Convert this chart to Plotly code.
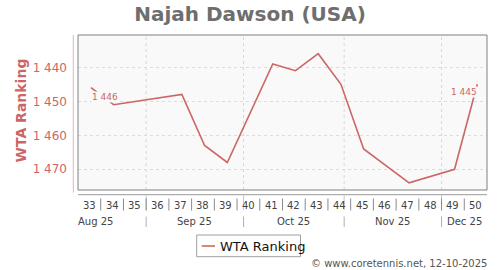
import plotly.graph_objects as go
import pandas as pd

# ---------------- data ----------------
player = "Najah Dawson (USA)"
series_name = "WTA Ranking"
dates = ["2025-08-15", "2025-08-22", "2025-09-12", "2025-09-19", "2025-09-26",
         "2025-10-10", "2025-10-17", "2025-10-24", "2025-10-31", "2025-11-07",
         "2025-11-21", "2025-12-05", "2025-12-12"]
ranking = [1446, 1451, 1448, 1463, 1468, 1439, 1441, 1436, 1445, 1464, 1474, 1470, 1445]
y_ticks = [1440, 1450, 1460, 1470]
y_ticktext = ["1 440", "1 450", "1 460", "1 470"]
week_numbers = list(range(33, 51))
first_week_monday = "2025-08-11"
month_starts = ["2025-09-01", "2025-10-01", "2025-11-01", "2025-12-01"]
month_labels = ["Aug 25", "Sep 25", "Oct 25", "Nov 25", "Dec 25"]
month_label_dates = ["2025-08-16 12:00", "2025-09-16", "2025-10-16 12:00", "2025-11-16", "2025-12-08"]
footer = "© www.coretennis.net, 12-10-2025"

# ---------------- layout constants ----------------
W, H = 500, 270
L, R, T, B = 78, 487, 35, 190
RED = "#cc6666"
FONT = "DejaVu Sans"

def px_x(px):
    return (px - L) / (R - L)

def px_y(py):
    return (B - py) / (B - T)

mondays = pd.date_range(first_week_monday, periods=len(week_numbers) + 1, freq="7D")
x_start, x_end = mondays[0], mondays[-1]
week_centers = [m + pd.Timedelta(hours=84) for m in mondays[:-1]]

fig = go.Figure()
fig.add_trace(go.Scatter(
    x=pd.to_datetime(dates), y=ranking, mode="lines", name=series_name,
    line=dict(color=RED, width=1.6), showlegend=False, hoverinfo="skip"))

shapes = []
annotations = []

# plot border
shapes.append(dict(type="rect", xref="paper", yref="paper", x0=0, x1=1, y0=0, y1=1,
                   line=dict(color="#808080", width=1), layer="above"))
# offset y-axis line
shapes.append(dict(type="line", xref="paper", yref="paper", x0=px_x(73.3), x1=px_x(73.3),
                   y0=1, y1=px_y(192.7), line=dict(color="#e4b4b4", width=1)))
# offset x-axis line
shapes.append(dict(type="line", xref="paper", yref="paper", x0=0, x1=1,
                   y0=px_y(194.7), y1=px_y(194.7), line=dict(color="#9a9a9a", width=1)))
# month gridlines (dashed in plot) and their extensions
for ms in month_starts:
    shapes.append(dict(type="line", xref="x", yref="paper", x0=ms, x1=ms, y0=0, y1=1,
                       line=dict(color="#d8d8d8", width=1, dash="3px,3px"), layer="below"))
    shapes.append(dict(type="line", xref="x", yref="paper", x0=ms, x1=ms,
                       y0=px_y(194.7), y1=px_y(210), line=dict(color="#c8c8c8", width=1)))
    shapes.append(dict(type="line", xref="x", yref="paper", x0=ms, x1=ms,
                       y0=px_y(216.5), y1=px_y(227), line=dict(color="#b0b0b0", width=1)))
# week separators
for m in mondays[1:-1]:
    shapes.append(dict(type="line", xref="x", yref="paper", x0=m, x1=m,
                       y0=px_y(198.5), y1=px_y(210.5), line=dict(color="#8a8a8a", width=1)))
# week labels
for wc, wn in zip(week_centers, week_numbers):
    annotations.append(dict(x=wc, y=px_y(205), xref="x", yref="paper", text=str(wn),
                            showarrow=False, xanchor="center", yanchor="middle",
                            font=dict(family=FONT, size=10, color="#444444")))
# month labels
for md, ml in zip(month_label_dates, month_labels):
    annotations.append(dict(x=pd.Timestamp(md), y=px_y(221.5), xref="x", yref="paper", text=ml,
                            showarrow=False, xanchor="center", yanchor="middle",
                            font=dict(family=FONT, size=10, color="#444444")))
# data labels for first and last point
annotations.append(dict(x=pd.Timestamp(dates[0]), y=ranking[0], xref="x", yref="y",
                        text=f"{ranking[0]:,}".replace(",", " "), showarrow=False,
                        xanchor="left", yanchor="top", yshift=-3, xshift=0,
                        bgcolor="#f9f9f9", borderpad=0,
                        font=dict(family=FONT, size=9, color=RED)))
annotations.append(dict(x=pd.Timestamp(dates[-1]), y=ranking[-1], xref="x", yref="y",
                        text=f"{ranking[-1]:,}".replace(",", " "), showarrow=False,
                        xanchor="right", yanchor="top", yshift=-2, xshift=1,
                        bgcolor="#f9f9f9", borderpad=0,
                        font=dict(family=FONT, size=9, color=RED)))
# y axis title
annotations.append(dict(x=px_x(20.5), y=px_y(110), xref="paper", yref="paper",
                        text=series_name, textangle=-90, showarrow=False,
                        xanchor="center", yanchor="middle",
                        font=dict(family=FONT, size=14, color=RED, weight="bold")))
# legend (manual)
shapes.append(dict(type="rect", xref="paper", yref="paper",
                   x0=px_x(196.7), x1=px_x(300.5), y0=px_y(235), y1=px_y(256.7),
                   line=dict(color="#a0a0a0", width=1), fillcolor="white"))
shapes.append(dict(type="line", xref="paper", yref="paper",
                   x0=px_x(201.7), x1=px_x(215), y0=px_y(246), y1=px_y(246),
                   line=dict(color=RED, width=1.6)))
annotations.append(dict(x=px_x(218), y=px_y(246), xref="paper", yref="paper",
                        text=series_name, showarrow=False, xanchor="left", yanchor="middle",
                        font=dict(family=FONT, size=13, color="#111111")))
# footer
annotations.append(dict(x=px_x(489), y=px_y(263.5), xref="paper", yref="paper",
                        text=footer, showarrow=False, xanchor="right", yanchor="middle",
                        font=dict(family=FONT, size=10, color="#555555")))

fig.update_layout(
    width=W, height=H,
    margin=dict(l=L, r=W - R, t=T, b=H - B, pad=0),
    paper_bgcolor="white", plot_bgcolor="#f9f9f9",
    title=dict(text=player, x=0.5, xanchor="center", y=1 - 13.5 / H, yanchor="middle",
               font=dict(family=FONT, size=20, color="#6e6e6e", weight="bold")),
    xaxis=dict(type="date", range=[x_start, x_end], showgrid=False, showticklabels=False,
               ticks="", showline=False, zeroline=False, fixedrange=True),
    yaxis=dict(range=[1476.09, 1430.5], tickvals=y_ticks, ticktext=y_ticktext,
               showgrid=True, gridcolor="#dcdcdc", griddash="3px,3px", gridwidth=1,
               ticks="", ticklabelstandoff=10, showline=False, zeroline=False,
               tickfont=dict(family=FONT, size=12, color=RED), fixedrange=True),
    shapes=shapes, annotations=annotations, showlegend=False,
)

fig.write_html("out.html")
